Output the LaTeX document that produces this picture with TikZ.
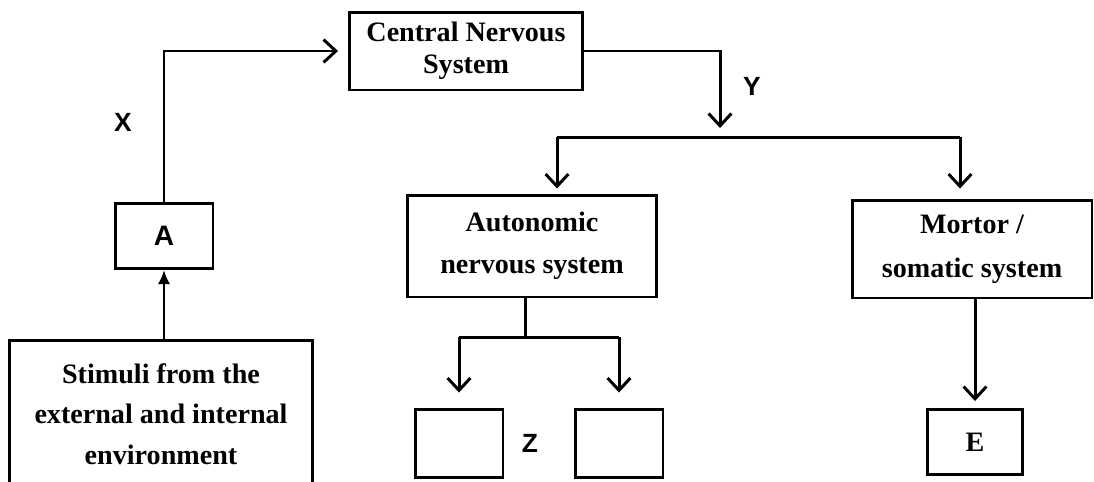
\documentclass[tikz,border=0pt]{standalone}
\usepackage{fontspec}
\setmainfont{Liberation Serif}
\setsansfont{Liberation Sans}
\usetikzlibrary{arrows.meta}

\begin{document}
\begin{tikzpicture}[x=0.02cm, y=-0.02cm, line width=1.7pt,
    box/.style={draw, align=center, inner sep=0pt,
        font=\bfseries\fontsize{16pt}{23pt}\selectfont},
    tag/.style={font=\sffamily\bfseries\fontsize{15pt}{17pt}\selectfont},
    flow/.style={-{Straight Barb[length=7pt,width=13pt]}}]
    \clip (0,0) rectangle (1094,481);
    % boxes
    \node[box, minimum width=4.66cm, minimum height=1.56cm,
        font=\bfseries\fontsize{16pt}{18pt}\selectfont] (cns) at (466,51) {Central Nervous\\System};
    \node[box, minimum width=1.96cm, minimum height=1.3cm,
        font=\sffamily\bfseries\fontsize{16pt}{18pt}\selectfont] (a) at (164,236) {A};
    \node[box, minimum width=6.06cm, minimum height=2.96cm] (stim) at (161,414) {Stimuli from the\\external and internal\\environment};
    \node[box, minimum width=5cm, minimum height=2.04cm,
        font=\bfseries\fontsize{16pt}{24pt}\selectfont] (auto) at (532,246) {Autonomic\\nervous system};
    \node[box, minimum width=4.8cm, minimum height=1.96cm,
        font=\bfseries\fontsize{16pt}{25pt}\selectfont] (motor) at (972,249) {Mortor /\\somatic system};
    \node[box, minimum width=1.76cm, minimum height=1.36cm] (z1) at (459,443) {};
    \node[box, minimum width=1.76cm, minimum height=1.36cm] (z2) at (619,443) {};
    \node[box, minimum width=1.9cm, minimum height=1.3cm] (e) at (975,442) {E};
    % labels
    \node[tag] (x) at (123,122) {X};
    \node[tag] (y) at (752,86) {Y};
    \node[tag] (z) at (530,443) {Z};
    % connectors
    \coordinate (yend) at (720,128);
    \coordinate (barl) at (557,137);
    \coordinate (barr) at (960,137);
    \coordinate (split) at (525,337);
    \draw[-{Latex[length=8pt,width=7pt]}] (stim.north -| a.south) -- (a.south);
    \draw[flow, shorten >=0.2cm] (a.north) |- (cns.west);
    \draw[flow] (cns.east) -| (yend);
    \draw (barl) -- (barr);
    \draw[flow, shorten >=0.1cm] (barl) -- (barl |- auto.north);
    \draw[flow, shorten >=0.2cm] (barr) -- (barr |- motor.north);
    \draw (auto.south -| split) -- (split);
    \draw (split -| z1) -- (split -| z2);
    \draw[flow, shorten >=0.3cm] (split -| z1) -- (z1.north);
    \draw[flow, shorten >=0.3cm] (split -| z2) -- (z2.north);
    \draw[flow, shorten >=0.14cm] (motor.south -| e.north) -- (e.north);
\end{tikzpicture}
\end{document}
